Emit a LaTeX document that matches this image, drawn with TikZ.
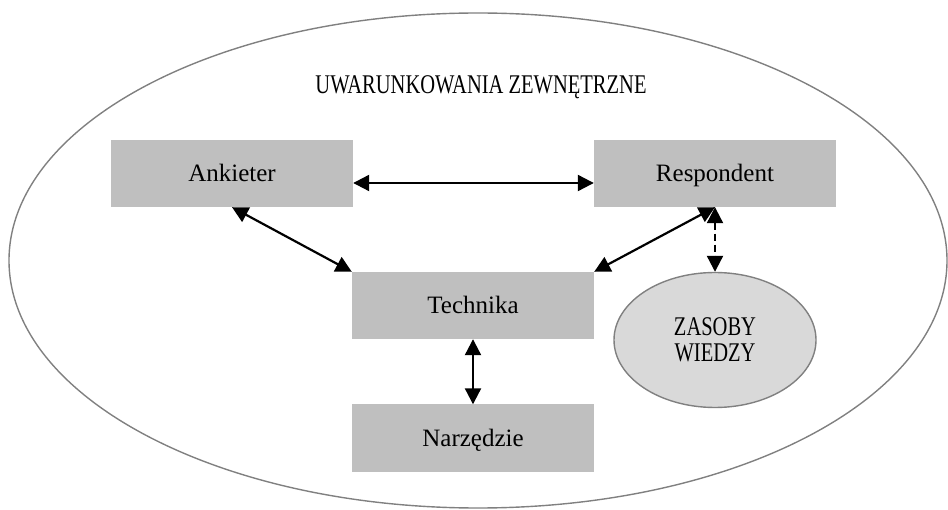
\documentclass[tikz,border=0pt]{standalone}
\usepackage{fontspec}
\setmainfont{Liberation Serif}
\usepackage{graphicx}
\usetikzlibrary{arrows.meta,shapes.geometric}
\definecolor{boxgray}{HTML}{BFBFBF}
\definecolor{ellfill}{HTML}{D9D9D9}
\definecolor{edgegray}{HTML}{808080}
\newcommand{\capsx}[1]{\scalebox{0.76}[1]{#1}}
\tikzset{
  boxnode/.style={fill=boxgray, draw=none, minimum width=242pt, minimum height=67pt, inner sep=0pt,
    text height=17pt, text depth=0pt, font=\fontsize{25}{28}\selectfont, text=black},
  knownode/.style={ellipse, fill=ellfill, draw=edgegray, line width=1.4pt, minimum width=202pt, minimum height=135pt,
    inner sep=0pt, align=center, font=\fontsize{27}{26}\selectfont, text=black},
  link/.style={line width=2.2pt, {Triangle[length=16pt,width=16pt]}-{Triangle[length=16pt,width=16pt]}},
  dashlink/.style={link, dash pattern=on 7pt off 4pt}
}
\begin{document}
\begin{tikzpicture}[x=1pt,y=-1pt]
\useasboundingbox (0,0) rectangle (948,510);
\draw[edgegray, line width=1.4pt] (478,260.5) ellipse [x radius=469, y radius=247.5];
\node[font=\fontsize{27}{28}\selectfont, text=black, anchor=base] (title) at (481,94) {\capsx{UWARUNKOWANIA ZEWNĘTRZNE}};
\node[boxnode] (ank) at (232,173.5) {Ankieter};
\node[boxnode] (resp) at (715,173.5) {Respondent};
\node[boxnode] (tech) at (473,305.5) {Technika};
\node[boxnode] (narz) at (473,438) {Narzędzie};
\node[knownode] (zas) at (715,340) {\capsx{ZASOBY}\\\capsx{WIEDZY}};
\draw[link] ([yshift=-9.5pt]ank.east) -- ([yshift=-9.5pt]resp.west);
\draw[link] (ank.south) -- (tech.north west);
\draw[link] (resp.south) -- (tech.north east);
\draw[dashlink] (resp.south) -- (zas.north);
\draw[link] (tech.south) -- (narz.north);
\end{tikzpicture}
\end{document}
